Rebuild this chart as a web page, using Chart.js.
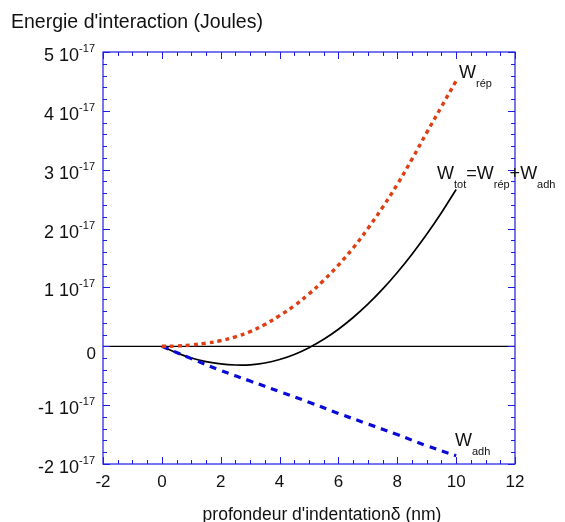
<!DOCTYPE html>
<html>
<head>
<meta charset="utf-8">
<script src="https://cdn.jsdelivr.net/npm/chart.js@4/dist/chart.umd.min.js"></script>
<style>
  html, body { margin: 0; padding: 0; background: #ffffff; }
  #wrap { width: 565px; height: 522px; position: relative; }
</style>
</head>
<body>
<div id="wrap"><canvas id="c" width="565" height="522"></canvas></div>
<script>
// ---- data (energies in units of 1e-17 J, depth in nm) ----
const deltaFine = [0, 0.5, 1, 1.5, 2, 2.5, 3, 3.5, 4, 4.5, 5, 5.5, 6, 6.5, 7, 7.5, 8, 8.5, 9, 9.5, 10];
const wRep = [0, 0.005, 0.022, 0.052, 0.095, 0.16, 0.25, 0.37, 0.52, 0.69, 0.89, 1.12, 1.38, 1.67, 2.00, 2.36, 2.75, 3.18, 3.63, 4.07, 4.51];
const wTot = [0, -0.11, -0.20, -0.26, -0.30, -0.318, -0.315, -0.284, -0.225, -0.139, -0.024, 0.119, 0.29, 0.489, 0.715, 0.97, 1.253, 1.564, 1.903, 2.27, 2.664];
const deltaInt = [0, 1, 2, 3, 4, 5, 6, 7, 8, 9, 10];
const wAdh = [0, -0.21, -0.41, -0.59, -0.77, -0.95, -1.14, -1.32, -1.50, -1.69, -1.86];
const zeroLineX = [-2, 12];
const xTickLabels = [-2, 0, 2, 4, 6, 8, 10, 12];
const yTickMantissas = [5, 4, 3, 2, 1, 0, -1, -2];
const yExponent = "-17";

const toPts = (xs, ys) => xs.map((x, i) => ({ x: x, y: ys[i] }));

const FONT = "'Liberation Sans', Arial, sans-serif";
const AXIS_BLUE = 'rgb(28,28,228)';

const framePlugin = {
  id: 'frame',
  afterDraw(chart) {
    const ctx = chart.ctx;
    const xs = chart.scales.x, ys = chart.scales.y;
    const a = chart.chartArea;
    ctx.save();
    // frame
    ctx.strokeStyle = AXIS_BLUE;
    ctx.lineWidth = 1.2;
    ctx.strokeRect(a.left, a.top, a.right - a.left, a.bottom - a.top);
    // x ticks (minor every 0.5, major every 2)
    ctx.lineWidth = 1;
    for (let k = -4; k <= 24; k++) {
      const v = k * 0.5;
      const px = Math.round(xs.getPixelForValue(v)) + 0.5;
      const len = (k % 4 === 0) ? 7 : 4;
      ctx.beginPath();
      ctx.moveTo(px, a.bottom); ctx.lineTo(px, a.bottom - len);
      ctx.moveTo(px, a.top); ctx.lineTo(px, a.top + len);
      ctx.stroke();
    }
    // y ticks (minor every 0.2, major every 1)
    for (let k = -10; k <= 25; k++) {
      const v = k * 0.2;
      const py = Math.round(ys.getPixelForValue(v)) + 0.5;
      const len = (k % 5 === 0) ? 7 : 4;
      ctx.beginPath();
      ctx.moveTo(a.left, py); ctx.lineTo(a.left + len, py);
      ctx.moveTo(a.right, py); ctx.lineTo(a.right - len, py);
      ctx.stroke();
    }
    // x tick labels
    ctx.fillStyle = '#111';
    ctx.font = '17px ' + FONT;
    ctx.textAlign = 'center';
    ctx.textBaseline = 'alphabetic';
    xTickLabels.forEach(v => {
      ctx.fillText(String(v), xs.getPixelForValue(v), a.bottom + 23);
    });
    // y tick labels with superscript
    const rightEdge = a.left - 8;
    yTickMantissas.forEach(m => {
      const py = ys.getPixelForValue(m);
      if (m === 0) {
        ctx.font = '17px ' + FONT;
        ctx.textAlign = 'right';
        ctx.fillText('0', rightEdge + 1, py + 13);
        return;
      }
      const main = m + ' 10';
      ctx.font = '11px ' + FONT;
      const supW = ctx.measureText(yExponent).width;
      ctx.textAlign = 'left';
      ctx.fillText(yExponent, rightEdge - supW, py);
      ctx.font = '18px ' + FONT;
      ctx.textAlign = 'right';
      ctx.fillText(main, rightEdge - supW, py + 9);
    });
    // axis titles
    ctx.font = '19.5px ' + FONT;
    ctx.textAlign = 'left';
    ctx.fillText("Energie d'interaction (Joules)", 11, 28);
    ctx.font = '17.5px ' + FONT;
    ctx.textAlign = 'center';
    ctx.fillText("profondeur d'indentation\u03B4 (nm)", 322, 520);
    // curve annotations
    const drawW = (x, y, parts) => {
      let cx = x;
      parts.forEach(p => {
        ctx.font = (p.sub ? '11px ' : '18px ') + FONT;
        ctx.textAlign = 'left';
        ctx.fillText(p.t, cx, p.sub ? y + 9 : y);
        cx += ctx.measureText(p.t).width + (p.gap || 0);
      });
    };
    ctx.fillStyle = '#111';
    drawW(459, 78, [{ t: 'W' }, { t: 'rép', sub: true }]);
    drawW(437, 179, [{ t: 'W' }, { t: 'tot', sub: true }, { t: '=W' }, { t: 'rép', sub: true }, { t: '+W' }, { t: 'adh', sub: true }]);
    drawW(455, 446, [{ t: 'W' }, { t: 'adh', sub: true }]);
    ctx.restore();
  }
};

new Chart(document.getElementById('c'), {
  type: 'line',
  data: {
    datasets: [
      {
        label: 'zero',
        data: toPts(zeroLineX, [0, 0]),
        borderColor: '#000',
        borderWidth: 1.2,
        pointRadius: 0,
        tension: 0,
        order: 4
      },
      {
        label: 'W_tot',
        data: toPts(deltaFine, wTot),
        borderColor: '#000',
        borderWidth: 1.7,
        pointRadius: 0,
        tension: 0.4,
        order: 3
      },
      {
        label: 'W_adh',
        data: toPts(deltaInt, wAdh),
        borderColor: 'rgb(10,10,215)',
        borderWidth: 3.2,
        borderDash: [7, 6],
        pointRadius: 0,
        tension: 0.4,
        order: 2
      },
      {
        label: 'W_rep',
        data: toPts(deltaFine, wRep),
        borderColor: 'rgb(222,62,18)',
        borderWidth: 3.4,
        borderDash: [4, 4],
        pointRadius: 0,
        tension: 0.4,
        order: 1
      }
    ]
  },
  options: {
    responsive: false,
    animation: false,
    layout: { padding: { left: 103, right: 50, top: 52, bottom: 58 } },
    plugins: { legend: { display: false }, tooltip: { enabled: false } },
    scales: {
      x: { type: 'linear', min: -2, max: 12, display: false },
      y: { type: 'linear', min: -2, max: 5, display: false }
    }
  },
  plugins: [framePlugin]
});
</script>
</body>
</html>
